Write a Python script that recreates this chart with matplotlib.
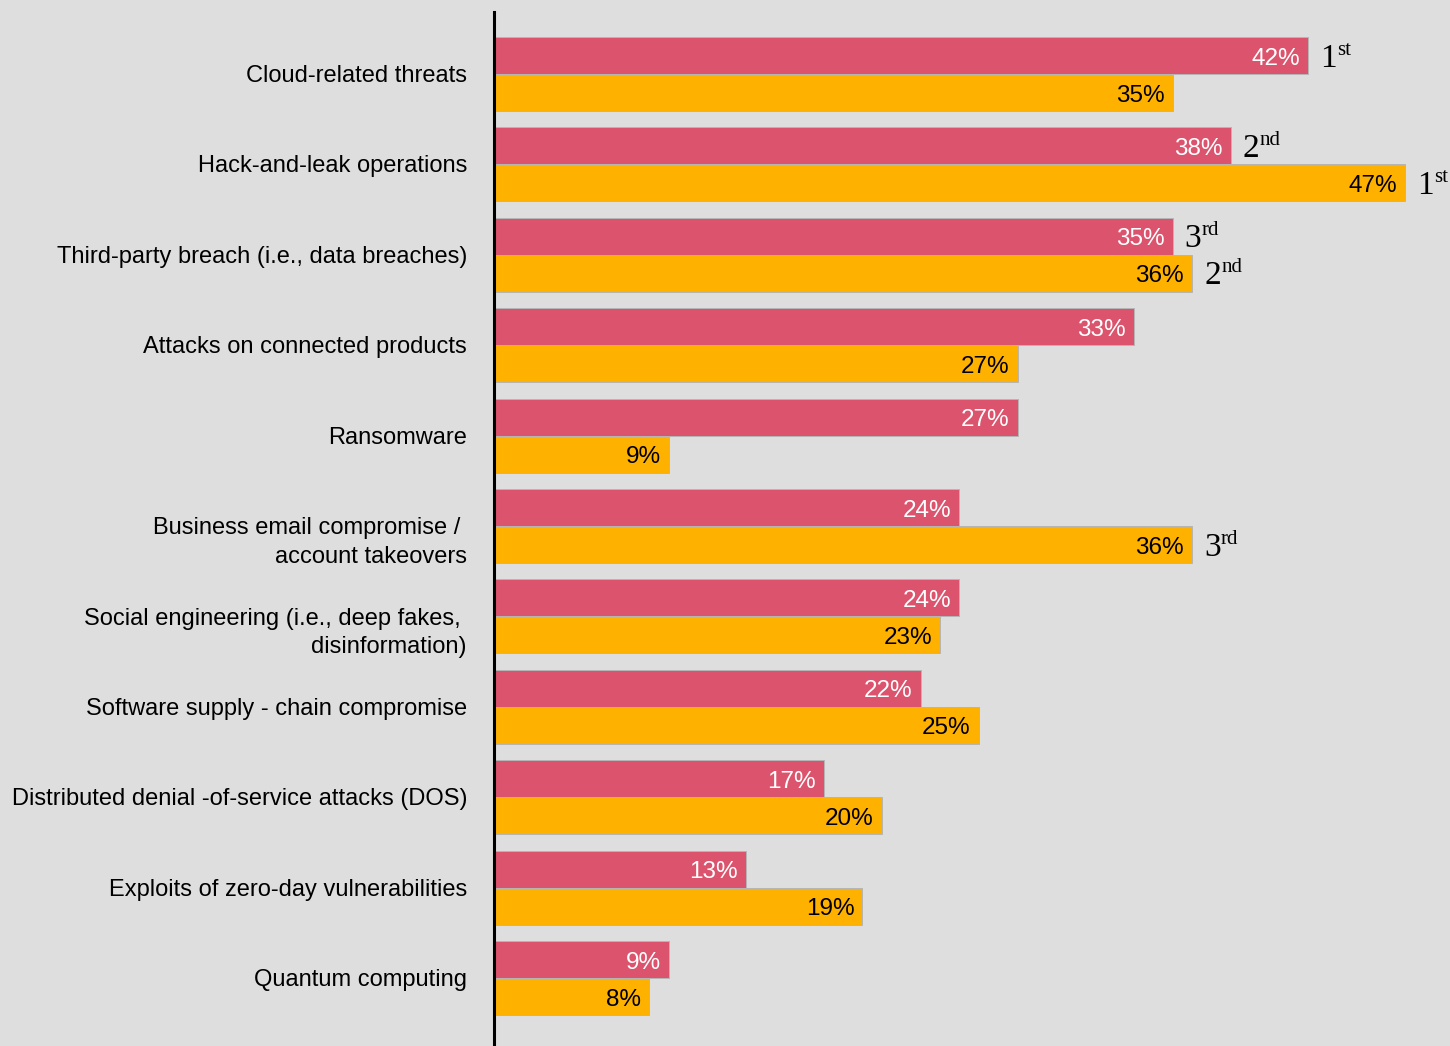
import numpy as np
import matplotlib.pyplot as plt

plt.rcParams['font.family'] = ['Liberation Sans', 'DejaVu Sans']

# 数据
categories = [
    "Cloud-related threats",
    "Hack-and-leak operations",
    "Third-party breach (i.e., data breaches)",
    "Attacks on connected products",
    "Ransomware",
    "Business email compromise / \naccount takeovers",
    "Social engineering (i.e., deep fakes, \ndisinformation)",
    "Software supply - chain compromise",
    "Distributed denial -of-service attacks (DOS)",
    "Exploits of zero-day vulnerabilities",
    "Quantum computing",
]
pct_red = [42, 38, 35, 33, 27, 24, 24, 22, 17, 13, 9]
pct_orange = [35, 47, 36, 27, 9, 36, 23, 25, 20, 19, 8]

# 排名标注 (索引 -> 序数)
rank_red = {0: ("1", "st"), 1: ("2", "nd"), 2: ("3", "rd")}
rank_orange = {1: ("1", "st"), 2: ("2", "nd"), 5: ("3", "rd")}

BG = '#dedede'
RED = '#db536c'
ORANGE = '#ffb100'
EDGE = '#b5b5b5'
LINE_H = 29  # 多行标签行距 (像素)

fig = plt.figure(figsize=(14.5, 10.46), dpi=100, facecolor=BG)
ax = fig.add_axes([494 / 1450, 0, (1450 - 494) / 1450, 1 - 12 / 1046])
ax.set_facecolor(BG)

y = np.arange(len(categories))
h = 0.409

ax.barh(y - h / 2, pct_red, height=h, color=RED, edgecolor=EDGE, linewidth=0.7)
ax.barh(y + h / 2, pct_orange, height=h, color=ORANGE, edgecolor=EDGE, linewidth=0.7)

ax.set_xlim(0, 49.3)
ax.set_ylim(10.752, -0.686)


def add_labels(vals, ys, color, ranks):
    for i, (v, yy) in enumerate(zip(vals, ys)):
        ax.annotate(f"{v}%", (v, yy), xytext=(-8, -9), textcoords='offset pixels',
                    ha='right', va='baseline', fontsize=17.5, color=color)
        if i in ranks:
            num, sup = ranks[i]
            ax.annotate(num, (v, yy), xytext=(12, -11), textcoords='offset pixels',
                        ha='left', va='baseline', fontsize=24, color='black',
                        family='Liberation Serif', annotation_clip=False)
            ax.annotate(sup, (v, yy), xytext=(29, 1), textcoords='offset pixels',
                        ha='left', va='baseline', fontsize=15, color='black',
                        family='Liberation Serif', annotation_clip=False)


add_labels(pct_red, y - h / 2, 'white', rank_red)
add_labels(pct_orange, y + h / 2, 'black', rank_orange)

# 类别标签：第一行对齐组中心
for yy, name in zip(y, categories):
    extra = name.count('\n')
    ax.annotate(name, (0, yy), xytext=(-27, -8 - LINE_H * extra), textcoords='offset pixels',
                ha='right', va='baseline', multialignment='right',
                fontsize=17, linespacing=1.4, annotation_clip=False)

# 坐标轴
for s in ['top', 'right', 'bottom']:
    ax.spines[s].set_visible(False)
ax.spines['left'].set_linewidth(2.2)
ax.spines['left'].set_color('black')
ax.set_xticks([])
ax.set_yticks([])

fig.savefig('out.png', dpi=100, facecolor=BG)
